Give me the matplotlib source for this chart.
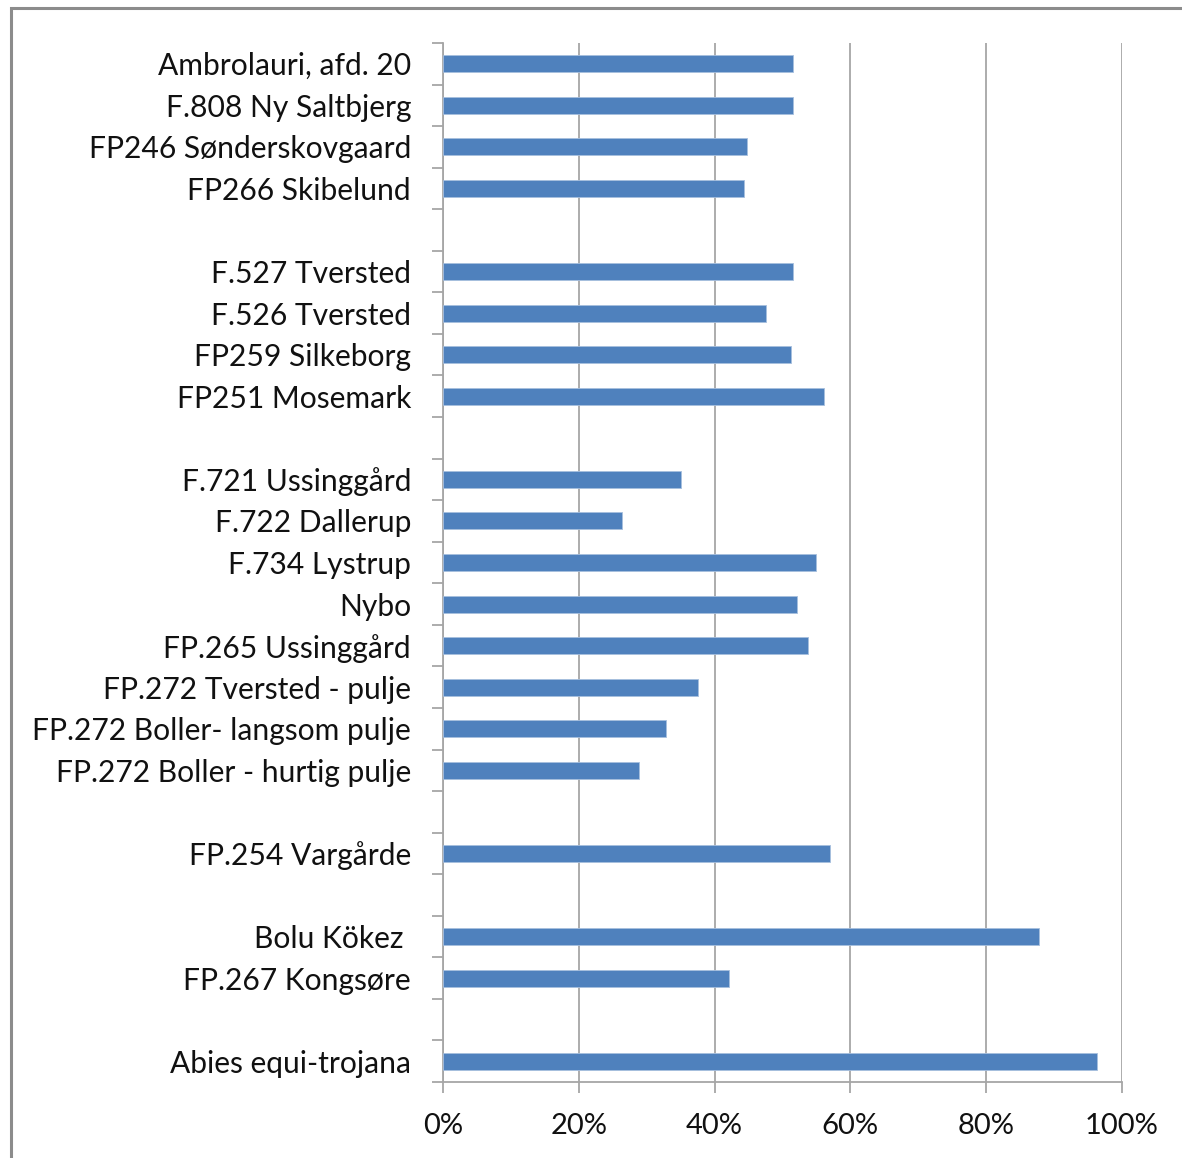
import matplotlib
matplotlib.use("Agg")
import matplotlib.pyplot as plt
from matplotlib.patches import Rectangle
from matplotlib.ticker import FixedLocator, FuncFormatter

labels = [
    "Ambrolauri, afd. 20", "F.808 Ny Saltbjerg", "FP246 Sønderskovgaard", "FP266 Skibelund", "",
    "F.527 Tversted", "F.526 Tversted", "FP259 Silkeborg", "FP251 Mosemark", "",
    "F.721 Ussinggård", "F.722 Dallerup", "F.734 Lystrup", "Nybo", "FP.265 Ussinggård",
    "FP.272 Tversted - pulje", "FP.272 Boller- langsom pulje", "FP.272 Boller - hurtig pulje", "",
    "FP.254 Vargårde", "",
    "Bolu Kökez ", "FP.267 Kongsøre", "",
    "Abies equi-trojana",
]
values = [
    0.515, 0.515, 0.4475, 0.443, None,
    0.515, 0.4755, 0.512, 0.561, None,
    0.350, 0.264, 0.550, 0.522, 0.538,
    0.3755, 0.329, 0.289, None,
    0.5705, None,
    0.8775, 0.4215, None,
    0.9637,
]
xticks = [0, 0.2, 0.4, 0.6, 0.8, 1.0]

W, H = 1182, 1158
plt.rcParams['font.family'] = ['Lato', 'DejaVu Sans']
fig = plt.figure(figsize=(W / 100, H / 100), dpi=100)

ax_l, ax_r, ax_t, ax_b = 443, 1122, 43, 1082
ax = fig.add_axes([ax_l / W, 1 - ax_b / H, (ax_r - ax_l) / W, (ax_b - ax_t) / H])

grid_c = '#A6A6A6'
bar_c = '#4F81BD'

n = len(labels)
ys = list(range(n))
for y, v in zip(ys, values):
    if v is not None:
        ax.barh(y, v, height=0.41, color=bar_c, edgecolor='#A7BFDE', linewidth=0.6, zorder=3)

ax.set_xlim(0, 1.0)
ax.set_ylim(n - 0.5, -0.5)

ax.set_xticks(xticks)
ax.xaxis.set_major_formatter(FuncFormatter(lambda v, p: f"{int(round(v * 100))}%"))
ax.grid(axis='x', color=grid_c, linewidth=1.3, zorder=0)

ax.set_yticks(ys)
ax.set_yticklabels(labels)
ax.yaxis.set_minor_locator(FixedLocator([i - 0.5 for i in range(n + 1)]))
ax.tick_params(axis='y', which='major', length=0, pad=23, labelsize=21.6, labelcolor='#111111')
ax.tick_params(axis='y', which='minor', length=8, width=1.3, color=grid_c)
ax.tick_params(axis='x', which='major', length=8, width=1.3, color=grid_c, pad=14,
               labelsize=21, labelcolor='#111111')

for s in ['top', 'right']:
    ax.spines[s].set_visible(False)
for s in ['left', 'bottom']:
    ax.spines[s].set_color(grid_c)
    ax.spines[s].set_linewidth(1.3)

# outer chart border (top and left visible)
fig.add_artist(Rectangle((10.5 / W, -0.05), 1.2, 1 - 7.5 / H + 0.05, transform=fig.transFigure,
                         fill=False, edgecolor='#8C8C8C', linewidth=2.2))

fig.savefig('out.png', dpi=100, facecolor='white')
